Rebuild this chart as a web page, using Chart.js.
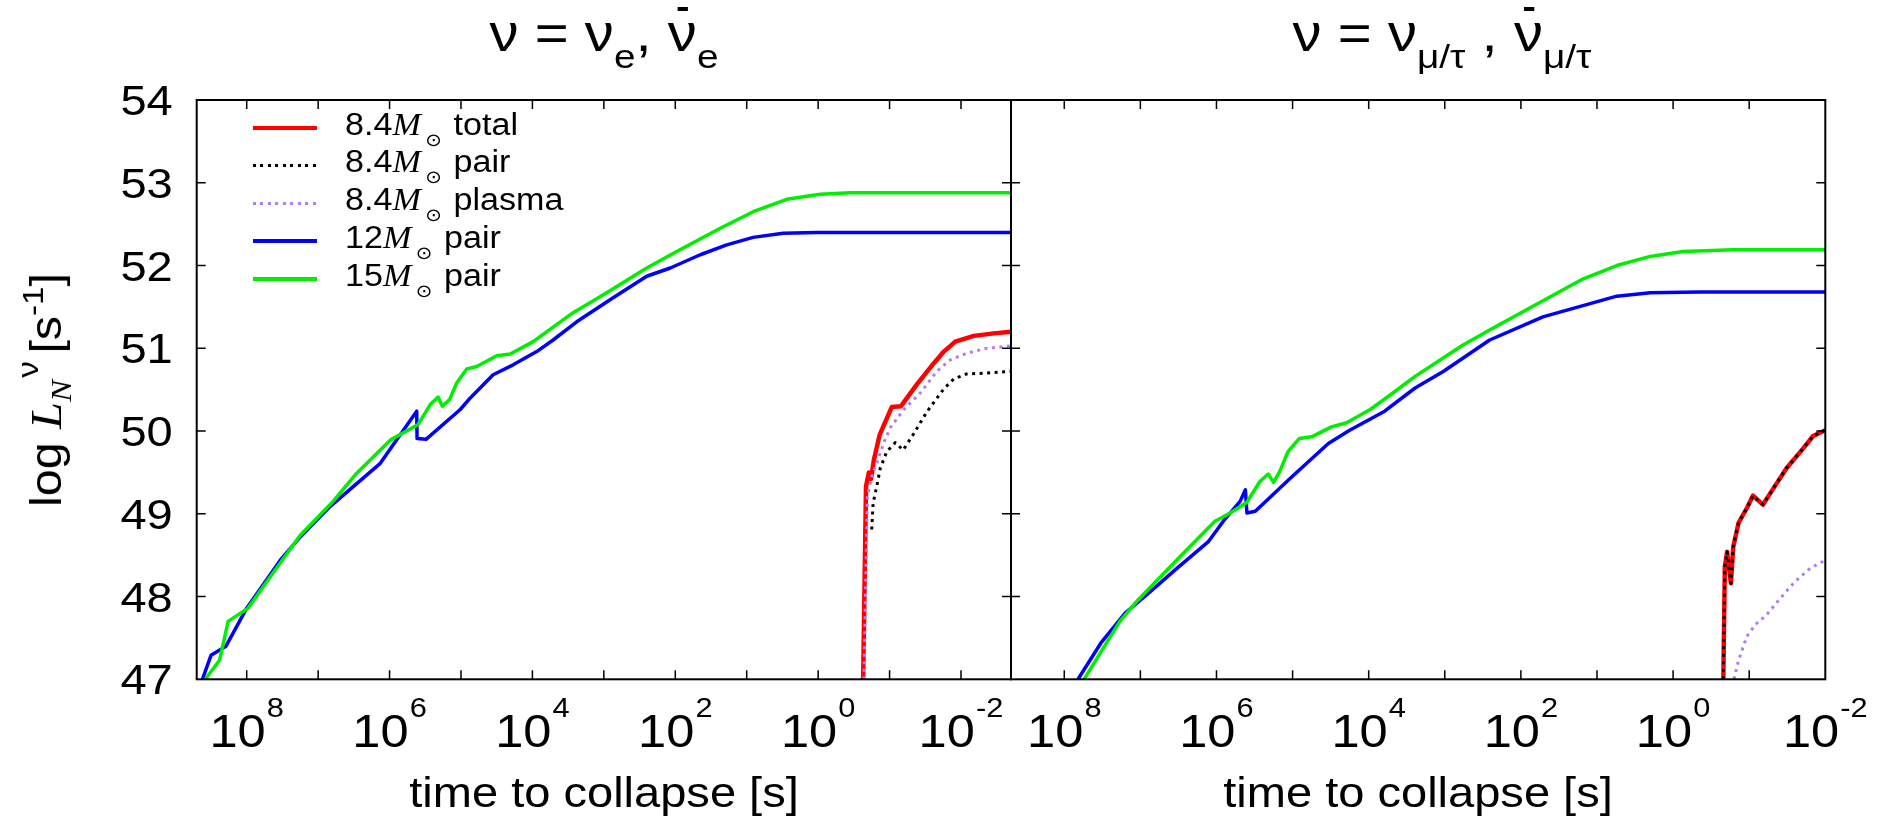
<!DOCTYPE html>
<html>
<head>
<meta charset="utf-8">
<script src="https://cdn.jsdelivr.net/npm/chart.js"></script>
<style>
  body { margin: 0; background: #fff; width: 1885px; height: 824px; overflow: hidden; position: relative;
         font-family: "Liberation Sans", Arial, sans-serif; color: #000; }
  canvas { position: absolute; left: 0; top: 0; }
  .lbl { position: absolute; white-space: nowrap; line-height: 1; }
  .title { top: 8px; font-size: 51px; line-height: 51px; transform: translateX(-50%) scaleX(1.14); }
  .sb { font-size: 34px; position: relative; top: 17px; }
  .bar { position: relative; }
  .bar::after { content: ''; position: absolute; left: 35%; width: 35%; top: 2px; height: 4px; background: #000; }
  .xlab { top: 772px; font-size: 42px; line-height: 42px; transform: translateX(-50%) scaleX(1.12); }
  #ytitle { left: 45px; top: 390px; font-size: 44px; line-height: 44px;
            transform: translate(-50%, -50%) rotate(-90deg) scaleX(1.1); }
  .mi { font-family: "Liberation Serif", serif; font-style: italic; }
  .stk { display: inline-block; position: relative; width: 44px; height: 44px; }
  .stk .up { position: absolute; left: 22px; top: -11px; font-size: 30px; }
  .stk .dn { position: absolute; left: 0px; top: 22px; font-size: 30px; }
  .sp { font-size: 30px; position: relative; top: -18px; }
  .leg-line { position: absolute; left: 253px; width: 64px; }
  .leg-text { position: absolute; left: 345px; font-size: 31px; line-height: 31px; white-space: nowrap;
              transform-origin: left center; transform: scaleX(1.1); }
  .leg-text .m { font-family: "Liberation Serif", serif; font-style: italic; }
  .leg-text .sun { font-family: "DejaVu Sans", sans-serif; font-size: 18px; position: relative; top: 11px; margin-left: 4px; margin-right: 2px; }
</style>
</head>
<body>
<canvas id="leftChart" width="1885" height="824"></canvas>
<canvas id="rightChart" width="1885" height="824"></canvas>

<div class="lbl title" style="left:604px">ν = ν<span class="sb">e</span>, <span class="bar">ν</span><span class="sb">e</span></div>
<div class="lbl title" style="left:1442px">ν = ν<span class="sb">μ/τ</span> , <span class="bar">ν</span><span class="sb">μ/τ</span></div>
<div class="lbl xlab" style="left:604px">time to collapse [s]</div>
<div class="lbl xlab" style="left:1418px">time to collapse [s]</div>
<div class="lbl" id="ytitle">log <span class="mi">L</span><span class="stk"><span class="up">ν</span><span class="dn mi">N</span></span>[s<span class="sp">-1</span>]</div>
<div id="legend"></div>

<script>
// x values are log10(time to collapse / s), y values are log10 L_N

// left panel: nu_e, anti-nu_e
var leftTotal84X = [-0.63, -0.67, -0.71, -0.74, -0.78, -0.86, -1.03, -1.16, -1.38, -1.62, -1.76, -1.92, -2.18, -2.46, -2.70];
var leftTotal84Y = [47.00, 49.33, 49.50, 49.42, 49.65, 49.95, 50.29, 50.30, 50.56, 50.82, 50.96, 51.08, 51.15, 51.18, 51.20];

var leftPair84X = [-0.75, -0.77, -0.82, -0.87, -0.96, -1.08, -1.19, -1.34, -1.52, -1.76, -1.90, -2.08, -2.36, -2.70];
var leftPair84Y = [48.81, 49.13, 49.33, 49.55, 49.75, 49.86, 49.77, 49.97, 50.23, 50.51, 50.63, 50.69, 50.70, 50.72];

var leftPlasma84X = [-0.64, -0.69, -0.75, -0.82, -0.92, -1.01, -1.20, -1.43, -1.66, -1.85, -2.08, -2.36, -2.70];
var leftPlasma84Y = [47.00, 49.21, 49.45, 49.61, 49.86, 50.04, 50.26, 50.46, 50.72, 50.86, 50.94, 51.00, 51.03];

var leftPair12X = [8.62, 8.50, 8.29, 8.00, 7.53, 7.25, 6.83, 6.13, 5.62, 5.615, 5.49, 5.01, 4.87, 4.55, 4.27, 3.94, 3.71, 3.38, 2.87, 2.40, 2.07, 1.65, 1.28, 0.91, 0.49, 0.02, -1.43, -2.70];
var leftPair12Y = [47.00, 47.29, 47.40, 47.86, 48.44, 48.72, 49.09, 49.61, 50.24, 49.91, 49.90, 50.26, 50.40, 50.68, 50.80, 50.96, 51.10, 51.32, 51.61, 51.87, 51.97, 52.13, 52.25, 52.34, 52.39, 52.40, 52.40, 52.40];

var leftPair15X = [8.58, 8.38, 8.26, 7.98, 7.67, 7.25, 6.79, 6.46, 5.99, 5.60, 5.43, 5.32, 5.26, 5.16, 5.06, 4.92, 4.78, 4.50, 4.31, 3.99, 3.43, 2.96, 2.40, 1.98, 1.37, 0.91, 0.44, -0.03, -0.45, -2.70];
var leftPair15Y = [47.00, 47.23, 47.70, 47.86, 48.24, 48.74, 49.15, 49.49, 49.89, 50.08, 50.32, 50.41, 50.30, 50.38, 50.58, 50.75, 50.78, 50.91, 50.93, 51.08, 51.43, 51.67, 51.97, 52.17, 52.45, 52.65, 52.80, 52.86, 52.88, 52.88];

// right panel: nu_mu/tau, anti-nu_mu/tau
var rightTotal84X = [-0.66, -0.68, -0.71, -0.76, -0.79, -0.86, -0.97, -1.05, -1.18, -1.32, -1.49, -1.71, -1.84, -2.00];
var rightTotal84Y = [47.00, 48.36, 48.54, 48.16, 48.60, 48.89, 49.07, 49.22, 49.11, 49.31, 49.55, 49.79, 49.94, 50.01];

var rightPair84X = [-0.66, -0.68, -0.71, -0.76, -0.79, -0.86, -0.97, -1.05, -1.18, -1.32, -1.49, -1.71, -1.84, -2.00];
var rightPair84Y = [47.00, 48.36, 48.54, 48.16, 48.60, 48.89, 49.07, 49.22, 49.11, 49.31, 49.55, 49.79, 49.94, 50.01];

var rightPlasma84X = [-0.80, -0.86, -0.97, -1.08, -1.23, -1.41, -1.60, -1.80, -2.00];
var rightPlasma84Y = [47.00, 47.23, 47.52, 47.66, 47.78, 47.98, 48.18, 48.34, 48.44];

var rightPair12X = [7.82, 7.51, 7.20, 6.87, 6.52, 6.11, 5.91, 5.69, 5.62, 5.60, 5.49, 5.03, 4.53, 4.25, 3.79, 3.39, 3.02, 2.41, 1.71, 0.74, 0.30, -0.35, -2.00];
var rightPair12Y = [47.00, 47.45, 47.80, 48.06, 48.34, 48.66, 48.91, 49.15, 49.29, 49.01, 49.03, 49.43, 49.85, 50.01, 50.24, 50.52, 50.72, 51.10, 51.38, 51.63, 51.67, 51.68, 51.68];

var rightPair15X = [7.74, 7.27, 7.05, 6.48, 6.02, 5.82, 5.60, 5.43, 5.32, 5.25, 5.17, 5.06, 4.91, 4.75, 4.49, 4.29, 3.98, 3.74, 3.39, 2.76, 2.41, 1.62, 1.18, 0.74, 0.30, -0.13, -0.79, -2.00];
var rightPair15Y = [47.00, 47.70, 47.94, 48.48, 48.91, 49.01, 49.14, 49.39, 49.48, 49.38, 49.51, 49.75, 49.91, 49.93, 50.05, 50.10, 50.26, 50.42, 50.66, 51.04, 51.22, 51.62, 51.84, 52.00, 52.11, 52.17, 52.19, 52.19];

// legend / axis text
var legendMass = ['8.4', '8.4', '8.4', '12', '15'];
var legendKind = ['total', 'pair', 'plasma', 'pair', 'pair'];
var xTickExps = [8, 6, 4, 2, 0, -2];
var yTickVals = [47, 48, 49, 50, 51, 52, 53, 54];

var colors = ['#ff0000', '#000000', '#b27cf2', '#0000ff', '#00ee00'];
var widths = [4.5, 3, 3, 3.5, 3.5];
var dashes = [[], [3, 4.5], [3, 4.5], [], []];

function pts(xs, ys) {
  return xs.map(function(x, i) { return {x: x, y: ys[i]}; });
}

function makeDatasets(list) {
  return list.map(function(s, i) {
    return {
      label: legendMass[i] + ' ' + legendKind[i],
      data: pts(s[0], s[1]),
      showLine: true,
      borderColor: colors[i],
      borderWidth: widths[i],
      borderDash: dashes[i],
      borderCapStyle: 'butt',
      borderJoinStyle: 'round',
      pointRadius: 0,
      tension: 0,
      order: list.length - i
    };
  });
}

var FONT = '"Liberation Sans", Arial, sans-serif';

var framePlugin = {
  id: 'frame',
  afterDraw: function(chart, args, opts) {
    var ctx = chart.ctx, a = chart.chartArea;
    var xs = chart.scales.x, ys = chart.scales.y;
    ctx.save();
    ctx.strokeStyle = '#000';
    ctx.lineWidth = 1.5;
    ctx.beginPath();
    for (var e = Math.ceil(xs.min); e <= Math.floor(xs.max); e++) {
      var px = xs.getPixelForValue(e);
      if (px <= a.left + 1 || px >= a.right - 1) continue;
      ctx.moveTo(px, a.bottom); ctx.lineTo(px, a.bottom - 9);
      ctx.moveTo(px, a.top); ctx.lineTo(px, a.top + 9);
    }
    for (var v = ys.min + 1; v < ys.max; v++) {
      var py = ys.getPixelForValue(v);
      ctx.moveTo(a.left, py); ctx.lineTo(a.left + 9, py);
      ctx.moveTo(a.right, py); ctx.lineTo(a.right - 9, py);
    }
    ctx.stroke();
    ctx.lineWidth = 2;
    ctx.strokeRect(a.left, a.top, a.right - a.left, a.bottom - a.top);

    // x tick labels 10^n
    ctx.fillStyle = '#000';
    ctx.textBaseline = 'alphabetic';
    ctx.textAlign = 'left';
    xTickExps.forEach(function(n) {
      var px = xs.getPixelForValue(n);
      ctx.font = '46px ' + FONT;
      var w1 = ctx.measureText('10').width;
      ctx.font = '28px ' + FONT;
      var w2 = ctx.measureText(String(n)).width;
      var sx = 1.1;
      var total = (w1 + w2 + 1) * sx;
      ctx.save();
      ctx.translate(px - total / 2, 0);
      ctx.scale(sx, 1);
      ctx.font = '46px ' + FONT;
      ctx.fillText('10', 0, 747);
      ctx.font = '28px ' + FONT;
      ctx.fillText(String(n), w1 + 1, 717);
      ctx.restore();
    });

    // y tick labels, left panel only
    if (opts.yLabels) {
      ctx.font = '42px ' + FONT;
      yTickVals.forEach(function(v) {
        var py = ys.getPixelForValue(v);
        var w = ctx.measureText(String(v)).width * 1.12;
        ctx.save();
        ctx.translate(a.left - 24 - w, py + 15);
        ctx.scale(1.12, 1);
        ctx.fillText(String(v), 0, 0);
        ctx.restore();
      });
    }
    ctx.restore();
  }
};

function makeChart(id, series, xmin, pad, yw, yLabels) {
  return new Chart(document.getElementById(id).getContext('2d'), {
    type: 'scatter',
    data: { datasets: makeDatasets(series) },
    options: {
      responsive: false,
      animation: false,
      events: [],
      layout: { padding: pad },
      plugins: { legend: { display: false }, tooltip: { enabled: false }, frame: { yLabels: yLabels } },
      scales: {
        x: {
          type: 'linear', reverse: true, min: xmin, max: 8.7,
          ticks: { display: false }, grid: { display: false }, border: { display: false },
          afterFit: function(s) { s.height = 0; }
        },
        y: {
          type: 'linear', min: 47, max: 54,
          ticks: { display: false }, grid: { display: false }, border: { display: false },
          afterFit: function(s) { s.width = yw; }
        }
      }
    },
    plugins: [framePlugin]
  });
}

makeChart('leftChart', [
  [leftTotal84X, leftTotal84Y],
  [leftPair84X, leftPair84Y],
  [leftPlasma84X, leftPlasma84Y],
  [leftPair12X, leftPair12Y],
  [leftPair15X, leftPair15Y]
], -2.7, { left: 0, top: 100, right: 874, bottom: 144.7 }, 196.7, true);

makeChart('rightChart', [
  [rightTotal84X, rightTotal84Y],
  [rightPair84X, rightPair84Y],
  [rightPlasma84X, rightPlasma84Y],
  [rightPair12X, rightPair12Y],
  [rightPair15X, rightPair15Y]
], -2, { left: 1011, top: 100, right: 59.7, bottom: 144.7 }, 0, false);

// legend
var legend = document.getElementById('legend');
legendMass.forEach(function(m, i) {
  var y = 127.7 + i * 37.75;
  var line = document.createElement('div');
  line.className = 'leg-line';
  var h = dashes[i].length ? 3 : 4;
  line.style.top = (y - h / 2) + 'px';
  line.style.height = h + 'px';
  if (dashes[i].length) {
    line.style.background = 'repeating-linear-gradient(90deg, ' + colors[i] + ' 0 3px, transparent 3px 7.5px)';
  } else {
    line.style.background = colors[i];
  }
  legend.appendChild(line);
  var t = document.createElement('div');
  t.className = 'leg-text';
  t.style.top = (y - 19) + 'px';
  t.innerHTML = m + '<span class="m">M</span><span class="sun">⊙</span> ' + legendKind[i];
  legend.appendChild(t);
});
</script>
</body>
</html>
